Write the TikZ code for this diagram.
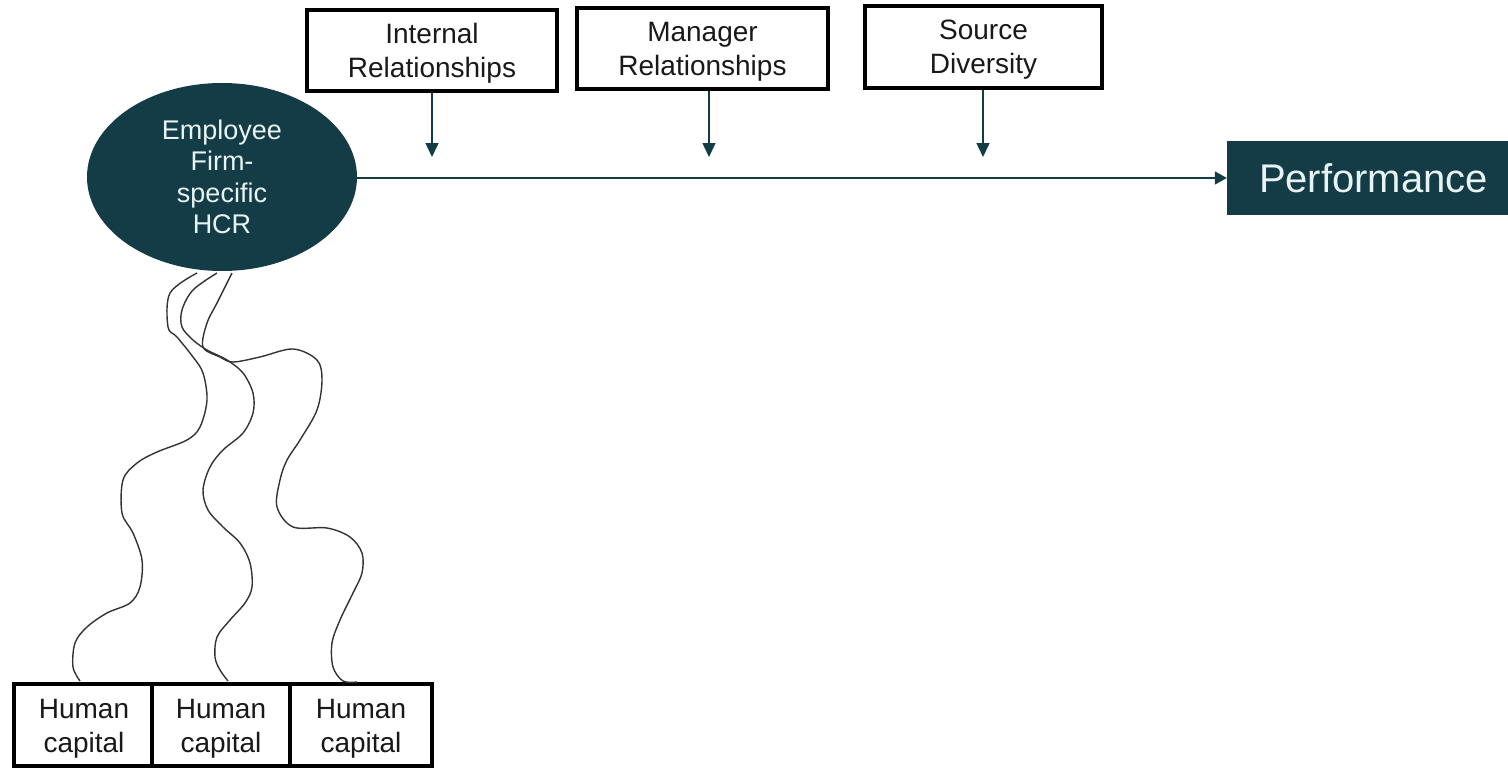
\documentclass[tikz,border=0pt]{standalone}
\usepackage{fontspec}
\setmainfont{Liberation Sans}
\usetikzlibrary{shapes.geometric,arrows.meta}
\definecolor{teal}{RGB}{20,60,70}
\definecolor{lighttxt}{RGB}{232,244,244}
\definecolor{boxtxt}{RGB}{25,25,25}
\tikzset{
  modbox/.style={draw=black,line width=4pt,fill=white,inner sep=0pt},
  hcbox/.style={draw=black,line width=4pt,fill=white,inner sep=0pt,minimum height=82pt},
  boxlabel/.style={align=center,text=boxtxt,inner sep=0pt,font=\fontsize{28}{34}\selectfont},
  arr/.style={draw=teal,line width=1.5pt,-{Triangle[length=14pt,width=13pt]}},
  wave/.style={draw=black!80,line width=1.4pt,line join=round}
}
\begin{document}
\begin{tikzpicture}[x=1pt,y=-1pt]
\useasboundingbox (0,0) rectangle (1508,768);
% top moderator boxes
\node[modbox,minimum width=250pt,minimum height=81pt] (ir) at (432,50.5) {};
\node[modbox,minimum width=251pt,minimum height=81pt] (mr) at (702.5,48.5) {};
\node[modbox,minimum width=237pt,minimum height=82pt] (sd) at (983.5,47) {};
\node[boxlabel,yshift=-3pt] (irt) at (ir.center) {Internal\\Relationships};
\node[boxlabel,yshift=-3pt] (mrt) at (mr.center) {Manager\\Relationships};
\node[boxlabel,yshift=-3pt] (sdt) at (sd.center) {Source\\Diversity};
% HCR ellipse
\node[ellipse,fill=teal,minimum width=270pt,minimum height=188pt,inner sep=0pt,align=center,text=lighttxt,font=\fontsize{27}{31.5}\selectfont] (hcr) at (222,177) {Employee\\Firm-\\specific\\HCR};
% performance
\node[fill=teal,minimum width=281pt,minimum height=74pt,inner sep=0pt] (perf) at (1367.5,178) {};
\node[text=lighttxt,inner sep=0pt,font=\fontsize{40}{48}\selectfont,xshift=6pt] (perft) at (perf.center) {Performance};
% tip coordinates
\coordinate (t1) at (432,157);
\coordinate (t2) at (709,157);
\coordinate (t3) at (983,157);
\draw[arr] (ir.south -| t1) -- (t1);
\draw[arr] (mr.south -| t2) -- (t2);
\draw[arr] (sd.south -| t3) -- (t3);
\draw[draw=teal,line width=1.5pt,-{Triangle[length=12pt,width=13pt]}] (hcr.east |- perf.west) -- (perf.west);
% human capital boxes
\node[hcbox,minimum width=140pt] (h1) at (84,725) {};
\node[hcbox,minimum width=138pt] (h2) at (221,725) {};
\node[hcbox,minimum width=142pt] (h3) at (361,725) {};
\node[boxlabel,yshift=-4pt] (h1t) at (h1.center) {Human\\capital};
\node[boxlabel,yshift=-4pt] (h2t) at (h2.center) {Human\\capital};
\node[boxlabel,yshift=-4pt] (h3t) at (h3.center) {Human\\capital};
% wavy lines
\draw[wave] plot[smooth,tension=0.55] coordinates {(197,273) (170,293) (168,327) (177,337) (193,357) (203,373) (207,400) (200,427) (187,440) (157,452) (137,463) (123,480) (122,513) (133,533) (142,560) (140,587) (130,603) (107,613) (87,627) (75,643) (73,667) (80,681)};
\draw[wave] plot[smooth,tension=0.55] coordinates {(217,273) (193,290) (182,310) (182,327) (193,340) (207,350) (227,360) (243,373) (253,393) (253,413) (243,433) (223,450) (210,467) (203,490) (208,510) (223,527) (240,543) (250,563) (252,587) (245,603) (230,620) (217,637) (215,657) (220,670) (228,681)};
\draw[wave] plot[smooth,tension=0.55] coordinates {(232,273) (217,303) (207,323) (203,347) (220,357) (233,362) (260,357) (293,349) (317,360) (322,380) (317,410) (300,440) (287,460) (280,480) (277,507) (293,527) (327,528) (350,537) (362,553) (362,573) (353,593) (340,620) (332,643) (333,667) (343,681) (357,682)};
\end{tikzpicture}
\end{document}
